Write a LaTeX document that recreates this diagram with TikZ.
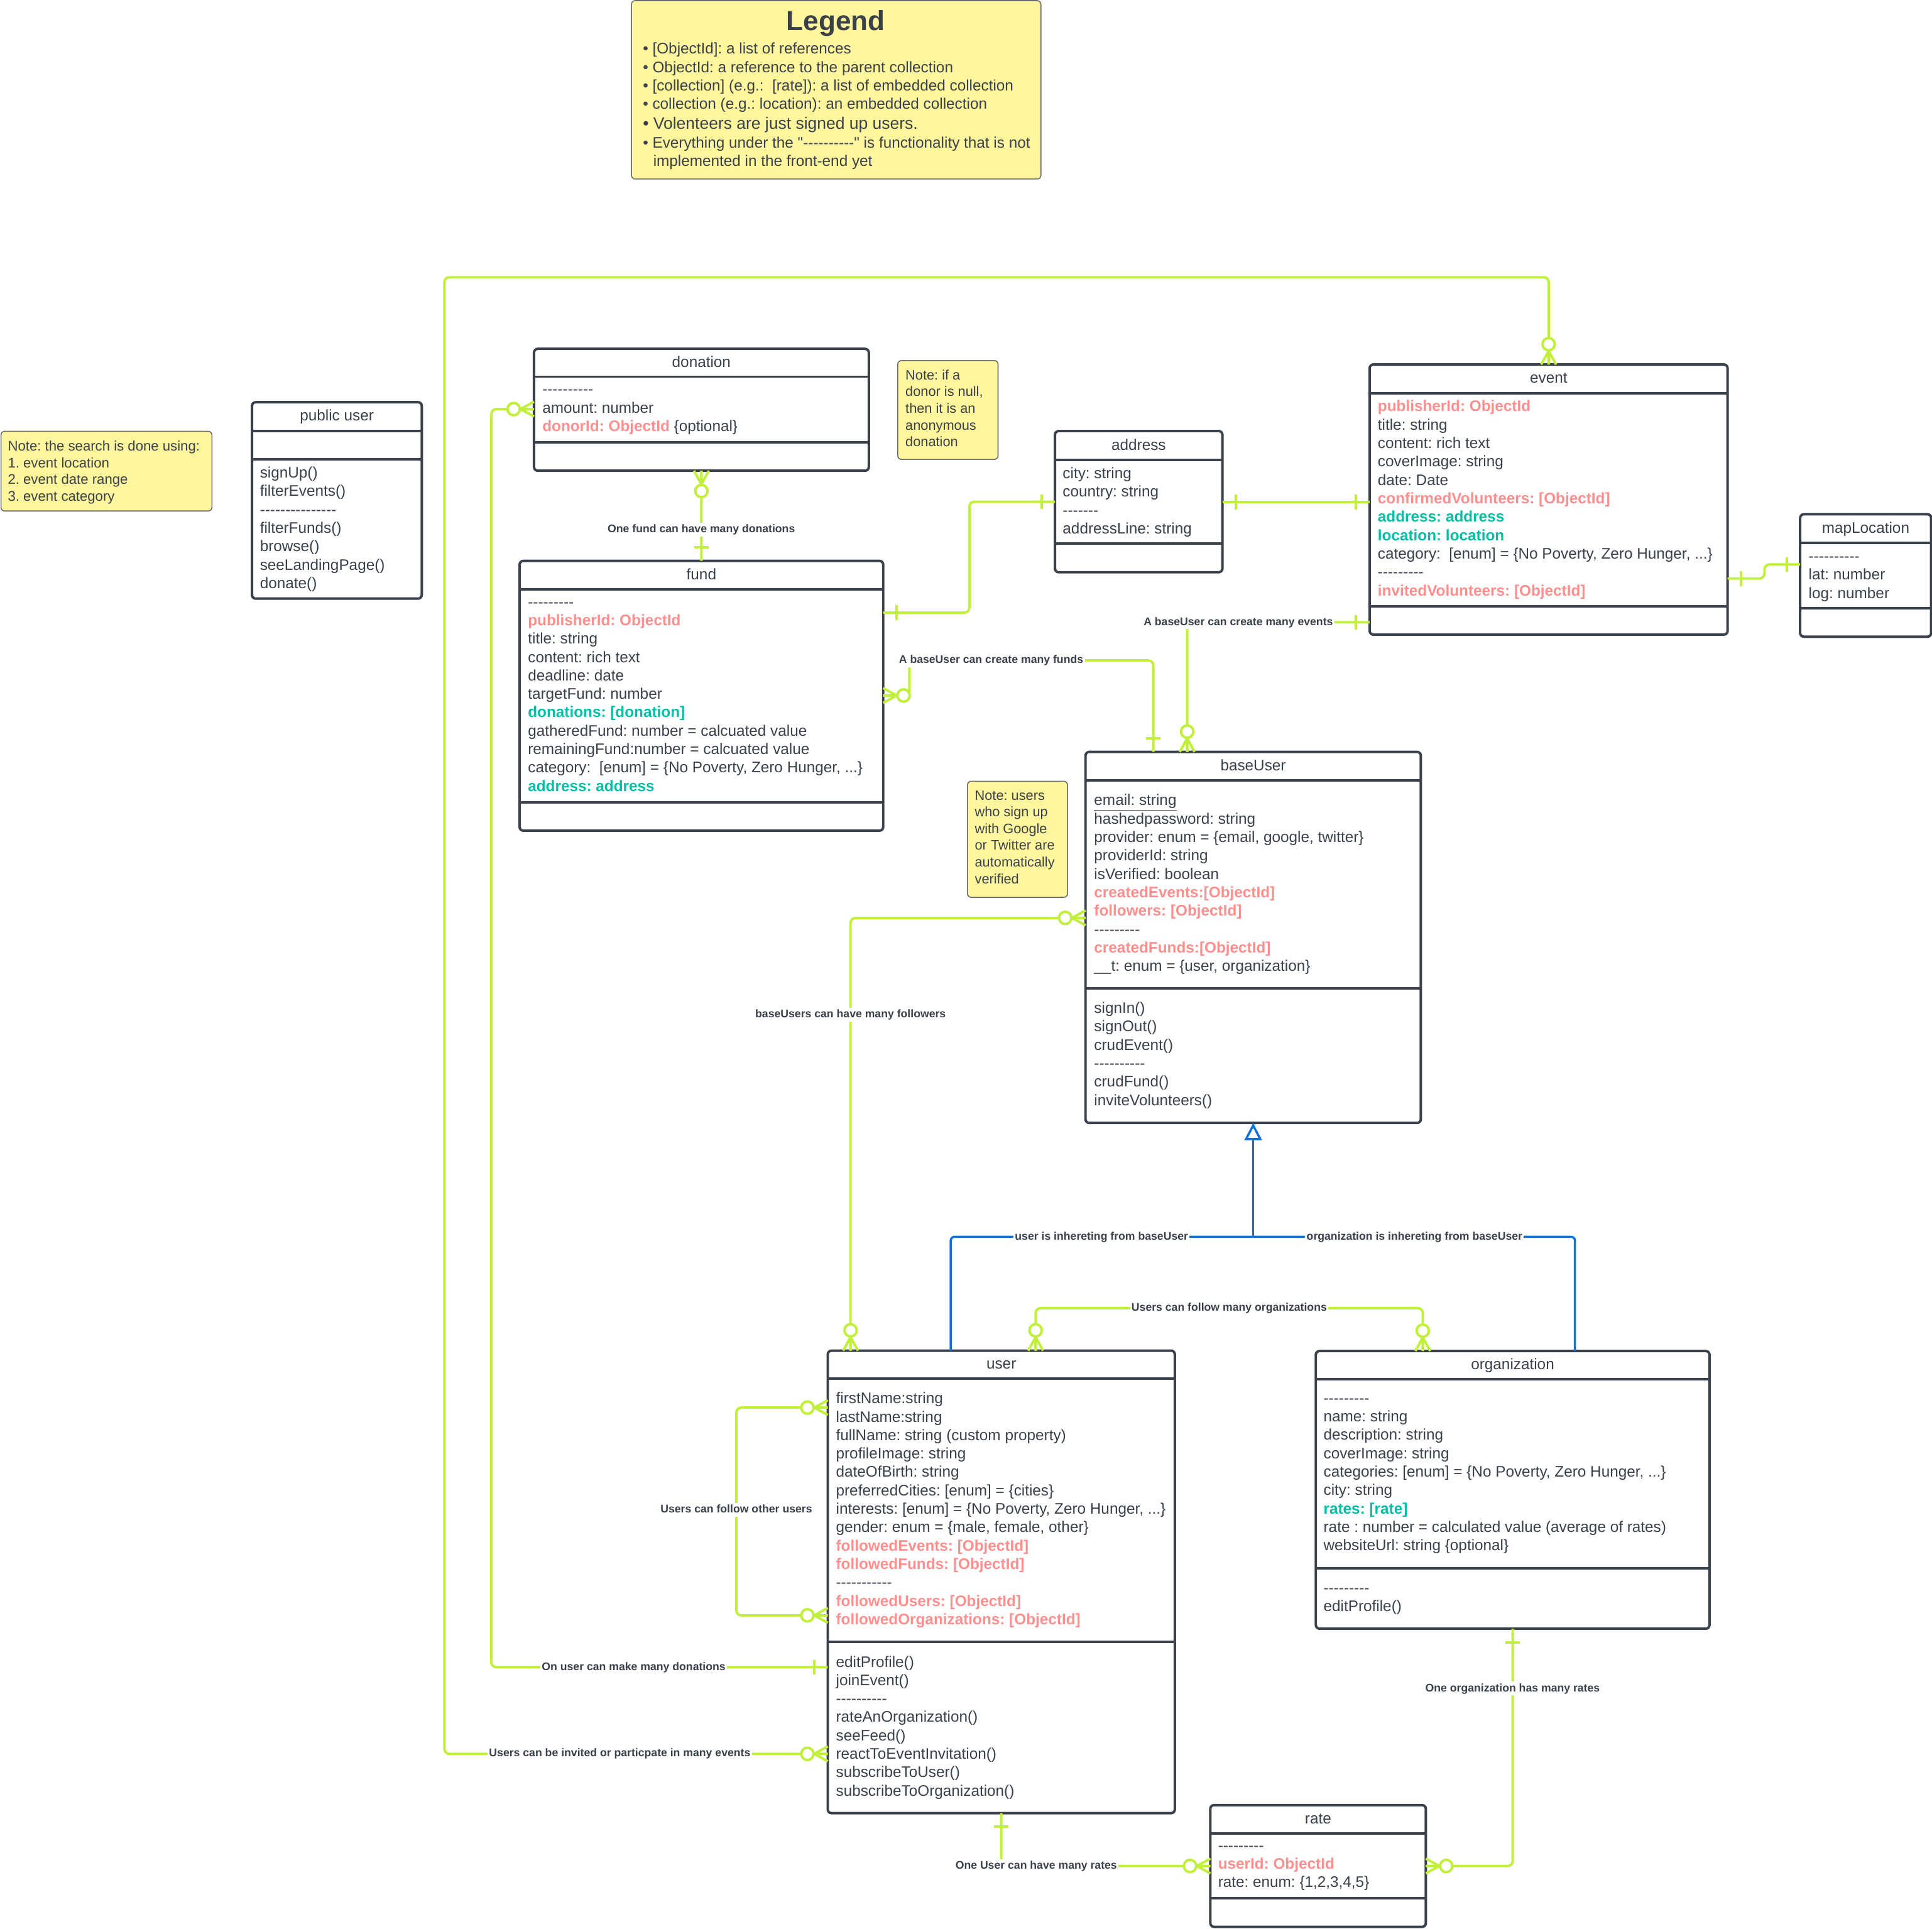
\documentclass[tikz,border=0pt]{standalone}
\usepackage{fontspec}
\setmainfont{Liberation Sans}[Ligatures={TeXOff,CommonOff}]
\usetikzlibrary{arrows.meta,calc}
\definecolor{ink}{HTML}{3A414A}
\definecolor{connlime}{HTML}{C1F03A}
\definecolor{salmon}{HTML}{FF8F8F}
\definecolor{embteal}{HTML}{00BFA5}
\definecolor{noteyellow}{HTML}{FFF69D}
\definecolor{notegray}{HTML}{6B6B6B}
\definecolor{inhblue}{HTML}{1071E5}
\newcommand\reffld[1]{\textcolor{salmon}{\bfseries #1}}
\newcommand\embfld[1]{\textcolor{embteal}{\bfseries #1}}
\newcommand\fstrut{\rule{0pt}{10.5pt}}
\newcommand\nstrut{\rule{0pt}{9.5pt}}
\frenchspacing
\tikzset{
  box/.style={draw=ink, line width=2pt, rounded corners=3pt, fill=white, inner sep=0pt, outer sep=0pt, anchor=north west},
  sep/.style={draw=ink, line width=2pt},
  hdr/.style={font=\fontsize{12.4}{15}\selectfont, text=ink, anchor=base, inner sep=0pt},
  body/.style={font=\fontsize{12.4}{14.95}\selectfont, text=ink, anchor=north west, inner sep=0pt, align=left},
  notetxt/.style={font=\fontsize{11.1}{13.55}\selectfont, text=ink, anchor=north west, inner sep=0pt, align=left},
  notebox/.style={draw=notegray, line width=0.8pt, fill=noteyellow, rounded corners=3pt, inner sep=0pt, outer sep=0pt, anchor=north west},
  legtxt/.style={font=\fontsize{12.4}{15}\selectfont, text=ink, anchor=base west, inner sep=0pt},
  conn/.style={draw=connlime, line width=2pt, rounded corners=4pt},
  inh/.style={draw=inhblue, line width=1.8pt, rounded corners=3pt},
  lbl/.style={font=\fontsize{9}{10}\selectfont\bfseries, text=ink, fill=white, inner sep=1.2pt, text height=6.8pt, text depth=2pt},
}
\newcommand\classbox[8]{%
  \node[box, minimum width=#4, minimum height=#5] (#1) at (#2,#3) {};
  \draw[sep] ($(#1.north west)+(0,#6)$) -- ($(#1.north east)+(0,#6)$);
  \draw[sep] ($(#1.north west)+(0,#7)$) -- ($(#1.north east)+(0,#7)$);
  \node[hdr] (#1-title) at ($(#1.north)+(0,#6/2+3.5)$) {#8};}
\newcommand\manyend[2]{%
  \begin{scope}[shift={#1},rotate=#2]
    \draw[conn,sharp corners] (0,6) -- (11,0) -- (0,-6) (0,0) -- (11,0);
    \draw[conn,fill=white] (16.5,0) circle[radius=5pt];
  \end{scope}}
\newcommand\oneend[2]{%
  \begin{scope}[shift={#1},rotate=#2]
    \draw[conn,sharp corners] (11,-6) -- (11,6);
  \end{scope}}
\begin{document}
\frenchspacing
\begin{tikzpicture}[x=1pt,y=-1pt]
\useasboundingbox (0,0) rectangle (1568,1565.4);

% ---------- Legend ----------
\node[notebox, minimum width=332.3, minimum height=144.8] (legend) at (512.5,0.5) {};
\node[font=\fontsize{22.5}{27}\selectfont\bfseries, text=ink, anchor=base, inner sep=0pt] (legend-title) at (678.4,24.6) {Legend};
\node[legtxt] (leg1) at (521.6,43.4) {• [ObjectId]: a list of references};
\node[legtxt] (leg2) at (521.6,58.7) {• ObjectId: a reference to the parent collection};
\node[legtxt] (leg3) at (521.6,73.7) {• [collection] (e.g.:\ \ [rate]): a list of embedded collection};
\node[legtxt] (leg4) at (521.6,88.5) {• collection (e.g.: location): an embedded collection};
\node[legtxt, font=\fontsize{13.5}{16}\selectfont] (leg5) at (521.6,104.7) {• Volenteers are just signed up users.};
\node[legtxt] (leg6) at (521.6,119.9) {• Everything under the "----------" is functionality that is not};
\node[legtxt] (leg7) at (530,134.9) {implemented in the front-end yet};

% ---------- Notes ----------
\node[notebox, minimum width=171.2, minimum height=64.7] (searchnote) at (0.8,350) {};
\node[notetxt, font=\fontsize{11.3}{13.6}\selectfont] (searchnote-text) at (6.2,356.1) {\nstrut Note: the search is done using:\\1. event location\\2. event date range\\3. event category};
\node[notebox, minimum width=81.4, minimum height=80.2] (donornote) at (728.6,292.6) {};
\node[notetxt] (donornote-text) at (734.7,298.5) {\nstrut Note: if a\\donor is null,\\then it is an\\anonymous\\donation};
\node[notebox, minimum width=81.2, minimum height=94.2] (usersnote) at (785.2,634) {};
\node[notetxt] (usersnote-text) at (791,639.5) {\nstrut Note: users\\who sign up\\with Google\\or Twitter are\\automatically\\verified};

% ---------- Class boxes ----------
\classbox{publicuser}{204.5}{326.4}{137.8}{159.4}{23.3}{46.2}{public user}
\node[body] (publicuser-methods) at (210.8,377.1) {\fstrut signUp()\\filterEvents()\\---------------\\filterFunds()\\browse()\\seeLandingPage()\\donate()};

\classbox{donation}{433.4}{283.1}{271.7}{98.9}{22.6}{75.8}{donation}
\node[body] (donation-attrs) at (440,309.4) {\fstrut ----------\\amount: number\\\reffld{donorId: ObjectId} \{optional\}};

\classbox{fund}{421.7}{455.2}{295.1}{218.9}{23.1}{196}{fund}
\node[body] (fund-attrs) at (428.3,481.9) {\fstrut ---------\\
\reffld{publisherId: ObjectId}\\
title: string\\
content: rich text\\
deadline: date\\
targetFund: number\\
\embfld{donations: [donation]}\\
gatheredFund: number = calcuated value\\
remainingFund:number = calcuated value\\
category:\ \ [enum] = \{No Poverty, Zero Hunger, ...\}\\
\embfld{address: address}};

\classbox{address}{856.2}{349.8}{135.9}{114.6}{23.6}{91.3}{address}
\node[body] (address-attrs) at (862.3,377.6) {\fstrut city: string\\country: string\\-------\\addressLine: string};

\classbox{event}{1111.6}{295.8}{290.5}{219.2}{23.2}{196.2}{event}
\node[body] (event-attrs) at (1118,323.2) {\fstrut \reffld{publisherId: ObjectId}\\
title: string\\
content: rich text\\
coverImage: string\\
date: Date\\
\reffld{confirmedVolunteers: [ObjectId]}\\
\embfld{address: address}\\
\embfld{location: location}\\
category:\ \ [enum] = \{No Poverty, Zero Hunger, ...\}\\
---------\\
\reffld{invitedVolunteers: [ObjectId]}};

\classbox{mapLocation}{1461}{417.3}{106.3}{99.4}{23.3}{76.5}{mapLocation}
\node[body] (mapLocation-attrs) at (1467.7,444.9) {\fstrut ----------\\lat: number\\log: number};

\classbox{baseUser}{881}{610.2}{272.1}{301.1}{23.2}{191.9}{baseUser}
\node[body] (baseUser-attrs) at (887.8,642.9) {\fstrut \underline{email: string}\\
hashedpassword: string\\
provider: enum = \{email, google, twitter\}\\
providerId: string\\
isVerified: boolean\\
\reffld{createdEvents:[ObjectId]}\\
\reffld{followers: [ObjectId]}\\
---------\\
\reffld{createdFunds:[ObjectId]}\\
\_\_t: enum = \{user, organization\}};
\node[body] (baseUser-methods) at (887.8,811.5) {\fstrut signIn()\\signOut()\\crudEvent()\\----------\\crudFund()\\inviteVolunteers()};

\classbox{user}{671.8}{1096.1}{281.7}{375.3}{22.8}{236.1}{user}
\node[body] (user-attrs) at (678.3,1128.3) {\fstrut firstName:string\\
lastName:string\\
fullName: string (custom property)\\
profileImage: string\\
dateOfBirth: string\\
preferredCities: [enum] = \{cities\}\\
interests: [enum] = \{No Poverty, Zero Hunger, ...\}\\
gender: enum = \{male, female, other\}\\
\reffld{followedEvents: [ObjectId]}\\
\reffld{followedFunds: [ObjectId]}\\
-----------\\
\reffld{followedUsers: [ObjectId]}\\
\reffld{followedOrganizations: [ObjectId]}};
\node[body] (user-methods) at (678.3,1342.1) {\fstrut editProfile()\\joinEvent()\\----------\\rateAnOrganization()\\seeFeed()\\reactToEventInvitation()\\subscribeToUser()\\subscribeToOrganization()};

\classbox{organization}{1067.9}{1096.4}{319.5}{225.3}{22.8}{176.4}{organization}
\node[body] (organization-attrs) at (1074,1128.1) {\fstrut ---------\\
name: string\\
description: string\\
coverImage: string\\
categories: [enum] = \{No Poverty, Zero Hunger, ...\}\\
city: string\\
\embfld{rates: [rate]}\\
rate : number = calculated value (average of rates)\\
websiteUrl: string \{optional\}};
\node[body] (organization-methods) at (1074,1282) {\fstrut ---------\\editProfile()};

\classbox{rate}{982.3}{1464.9}{174.9}{98.8}{22.8}{75.7}{rate}
\node[body] (rate-attrs) at (988.4,1491.1) {\fstrut ---------\\\reffld{userId: ObjectId}\\rate: enum: \{1,2,3,4,5\}};

% ---------- Connectors ----------
\draw[conn] (donation.south) -- (fund.north);
\draw[conn] (fund.east |- 0,497.2) -| (786.7,407.2) -- (address.west |- 0,407.2);
\draw[conn] (address.east |- 0,407.3) -- (event.west |- 0,407.3);
\draw[conn] (event.west |- 0,505) -| (baseUser.north -| 963.5,0);
\draw[conn] (fund.east |- 0,564.4) -- (738,564.4) -- (738,536) -| (baseUser.north -| 936,0);
\draw[conn] (baseUser.west |- 0,744.9) -| (user.north -| 690.3,0);
\draw[conn] (user.north -| 840.5,0) -- (840.5,1061.6) -- (1154.7,1061.6) -- (organization.north -| 1154.7,0);
\draw[conn] (user.west |- 0,1142.3) -| (597.6,1310.9) -- (user.west |- 0,1310.9);
\draw[conn] (user.west |- 0,1353) -| (398.8,332) -- (donation.west |- 0,332);
\draw[conn] (user.west |- 0,1423.3) -| (360.7,225) -| (event.north);
\draw[conn] (user.south) |- (rate.west);
\draw[conn] (organization.south) |- (rate.east);
\draw[conn] (event.east |- 0,469.5) -- (1432,469.5) -- (1432,458.1) -- (mapLocation.west |- 0,458.1);

% inheritance
\coordinate (inhJ) at (baseUser.south |- 0,1003.7);
\draw[inh] (user.north -| 771.6,0) |- (inhJ);
\draw[inh] (organization.north -| 1278.2,0) |- (inhJ);
\draw[inh, sharp corners, -{Triangle[open, length=14pt, width=14pt]}] (inhJ) -- (baseUser.south);

% ---------- Cardinality marks ----------
\manyend{(donation.south)}{270}
\oneend{(fund.north)}{90}
\oneend{(fund.east |- 0,497.2)}{0}
\oneend{(address.west |- 0,407.2)}{180}
\oneend{(address.east |- 0,407.3)}{0}
\oneend{(event.west |- 0,407.3)}{180}
\oneend{(event.west |- 0,505)}{180}
\manyend{(baseUser.north -| 963.5,0)}{90}
\manyend{(fund.east |- 0,564.4)}{0}
\oneend{(baseUser.north -| 936,0)}{90}
\manyend{(baseUser.west |- 0,744.9)}{180}
\manyend{(user.north -| 690.3,0)}{90}
\manyend{(user.north -| 840.5,0)}{90}
\manyend{(organization.north -| 1154.7,0)}{90}
\manyend{(user.west |- 0,1142.3)}{180}
\manyend{(user.west |- 0,1310.9)}{180}
\oneend{(user.west |- 0,1353)}{180}
\manyend{(donation.west |- 0,332)}{180}
\manyend{(user.west |- 0,1423.3)}{180}
\manyend{(event.north)}{90}
\oneend{(user.south)}{270}
\manyend{(rate.west)}{180}
\oneend{(organization.south)}{270}
\manyend{(rate.east)}{0}
\oneend{(event.east |- 0,469.5)}{0}
\oneend{(mapLocation.west |- 0,458.1)}{180}

% ---------- Connector labels ----------
\node[lbl] (lbl-donfund) at (569.2,429.8) {One fund can have many donations};
\node[lbl] (lbl-events) at (1005,505) {A baseUser can create many events};
\node[lbl] (lbl-funds) at (804.4,536) {A baseUser can create many funds};
\node[lbl] (lbl-followers) at (690.3,823.6) {baseUsers can have many followers};
\node[lbl] (lbl-inhuser) at (894,1003.7) {user is inhereting from baseUser};
\node[lbl] (lbl-inhorg) at (1148,1003.7) {organization is inhereting from baseUser};
\node[lbl] (lbl-followorg) at (997.6,1061.6) {Users can follow many organizations};
\node[lbl] (lbl-followusers) at (597.6,1225.4) {Users can follow other users};
\node[lbl] (lbl-donations) at (514.3,1353) {On user can make many donations};
\node[lbl] (lbl-invited) at (503,1423.3) {Users can be invited or particpate in many events};
\node[lbl] (lbl-userrate) at (841,1514.3) {One User can have many rates};
\node[lbl] (lbl-orgrate) at (1227.6,1370.3) {One organization has many rates};
\end{tikzpicture}
\end{document}
